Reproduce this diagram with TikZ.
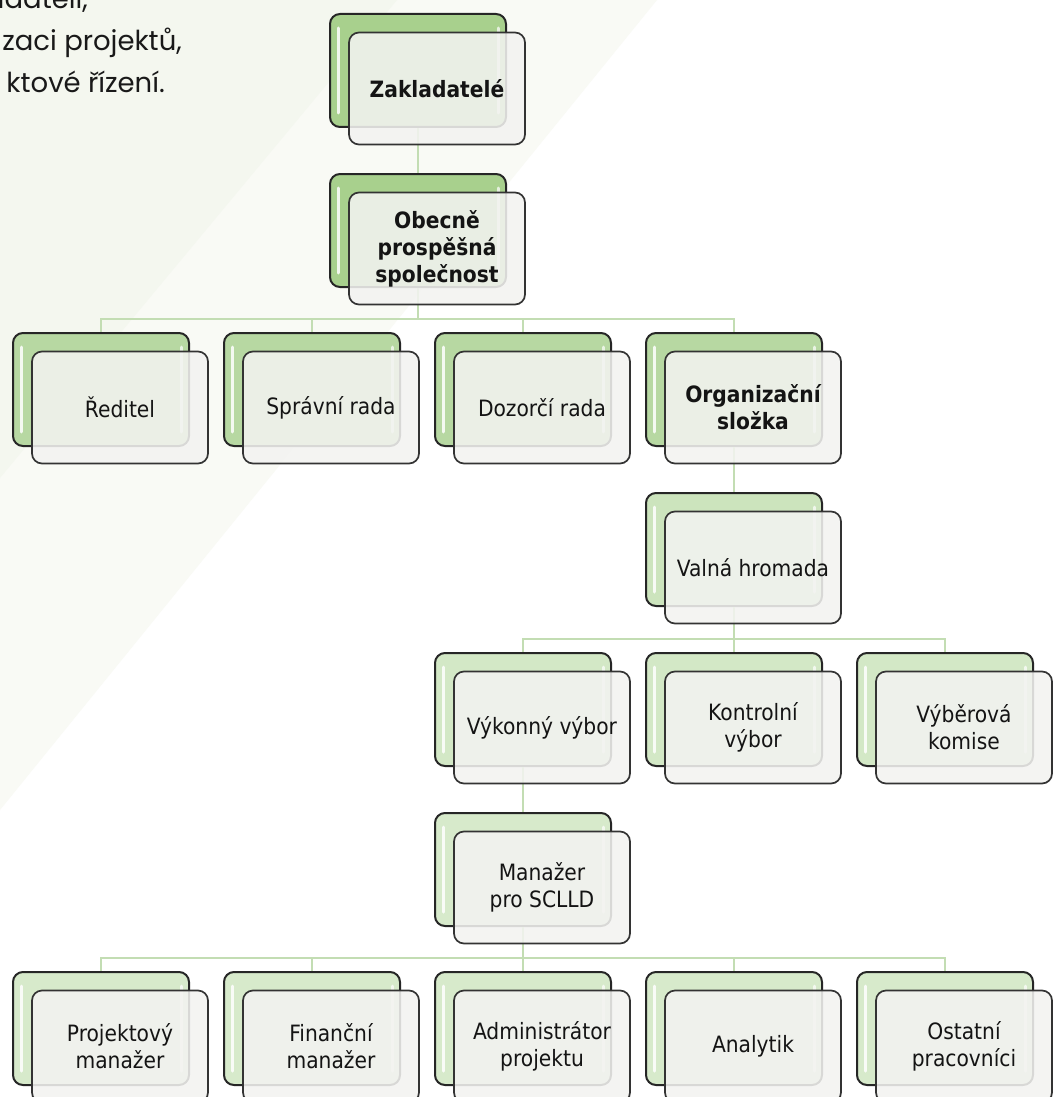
\documentclass[tikz,border=0pt]{standalone}
\usepackage{fontspec}
\usepackage{tikz}
\newfontfamily\boxfont{DejaVu Sans Condensed}
\newfontfamily\introfont{Poppins}
\definecolor{bgdark}{HTML}{F4F7EF}
\definecolor{bglight}{HTML}{F9FAF5}
\definecolor{linkgreen}{HTML}{C3DDB3}
\definecolor{boxface}{HTML}{F3F3F1}
\definecolor{gA}{HTML}{A8D08D}
\definecolor{gB}{HTML}{B7D8A2}
\definecolor{gC}{HTML}{CCE4BD}
\definecolor{gD}{HTML}{D3E8C6}
\definecolor{gE}{HTML}{D7EACB}

\begin{document}
\begin{tikzpicture}[x=1pt,y=-1pt,
    backbox/.style={draw=black!85, line width=2pt, rounded corners=10pt,
      minimum width=176pt, minimum height=113pt, inner sep=0pt,
      path picture={
        \draw[white, line width=3pt, line cap=round, opacity=.85]
          ([shift={(8,14)}]path picture bounding box.north west) --
          ([shift={(8,-14)}]path picture bounding box.south west);
        \draw[white, line width=3pt, line cap=round, opacity=.7]
          ([shift={(-8,14)}]path picture bounding box.north east) --
          ([shift={(-8,-14)}]path picture bounding box.south east);
      }},
    frontbox/.style={draw=black!80, line width=1.7pt, rounded corners=10pt,
      fill=boxface, fill opacity=.87, text opacity=1, text=black!92,
      minimum width=176pt, minimum height=112pt, inner sep=2pt, align=center,
      font=\boxfont\fontsize{22.5}{27}\selectfont},
    boldbox/.style={frontbox, font=\boxfont\bfseries\fontsize{22.5}{27}\selectfont},
    intro/.style={font=\introfont\fontsize{27.5}{34}\selectfont, text=black!90,
      anchor=base east, inner sep=0pt},
    link/.style={draw=linkgreen, line width=2pt}]
  \clip (0,0) rectangle (1059,1097);
  % background
  \fill[white] (0,0) rectangle (1059,1097);
  \fill[bglight] (0,0) -- (657,0) -- (0,810) -- cycle;
  \fill[bgdark] (0,0) -- (397,0) -- (0,478) -- cycle;
  \node[intro] (introa) at (88,9) {adateli,};
  \node[intro] (introb) at (182,51) {zaci projektů,};
  \node[intro] (introc) at (165,93) {ktové řízení.};

  % bus levels
  \coordinate (busA) at (0,319);
  \coordinate (busB) at (0,639);
  \coordinate (busC) at (0,958);

  % back boxes
  \node[backbox, fill=gA] (zaklB) at (418,70.5) {};
  \node[backbox, fill=gA] (obecB) at (418,230.5) {};
  \node[backbox, fill=gB] (redB) at (101,389.5) {};
  \node[backbox, fill=gB] (sprB) at (312,389.5) {};
  \node[backbox, fill=gB] (dozB) at (523,389.5) {};
  \node[backbox, fill=gB] (orgB) at (734,389.5) {};
  \node[backbox, fill=gC] (valB) at (734,549.5) {};
  \node[backbox, fill=gD] (vykB) at (523,709.5) {};
  \node[backbox, fill=gD] (konB) at (734,709.5) {};
  \node[backbox, fill=gD] (vybB) at (945,709.5) {};
  \node[backbox, fill=gE] (manB) at (523,869.5) {};
  \node[backbox, fill=gE] (proB) at (101,1028.5) {};
  \node[backbox, fill=gE] (finB) at (312,1028.5) {};
  \node[backbox, fill=gE] (admB) at (523,1028.5) {};
  \node[backbox, fill=gE] (anaB) at (734,1028.5) {};
  \node[backbox, fill=gE] (ostB) at (945,1028.5) {};

  % connectors
  \draw[link] (zaklB.south) -- (obecB.north);
  \foreach \c in {redB,sprB,dozB,orgB}
    \draw[link] (obecB.south) |- (\c.north |- busA) -- (\c.north);
  \draw[link] (orgB.south) -- (valB.north);
  \foreach \c in {vykB,konB,vybB}
    \draw[link] (valB.south) |- (\c.north |- busB) -- (\c.north);
  \draw[link] (vykB.south) -- (manB.north);
  \foreach \c in {proB,finB,admB,anaB,ostB}
    \draw[link] (manB.south) |- (\c.north |- busC) -- (\c.north);

  % front boxes
  \node[boldbox] (zakl) at ([shift={(19,18)}]zaklB.center) {Zakladatelé};
  \node[boldbox] (obec) at ([shift={(19,18)}]obecB.center) {Obecně\\prospěšná\\společnost};
  \node[frontbox] (red) at ([shift={(19,18)}]redB.center) {Ředitel};
  \node[frontbox] (spr) at ([shift={(19,18)}]sprB.center) {Správní rada};
  \node[frontbox] (doz) at ([shift={(19,18)}]dozB.center) {Dozorčí rada};
  \node[boldbox] (org) at ([shift={(19,18)}]orgB.center) {Organizační\\složka};
  \node[frontbox] (val) at ([shift={(19,18)}]valB.center) {Valná hromada};
  \node[frontbox] (vyk) at ([shift={(19,18)}]vykB.center) {Výkonný výbor};
  \node[frontbox] (kon) at ([shift={(19,18)}]konB.center) {Kontrolní\\výbor};
  \node[frontbox] (vyb) at ([shift={(19,18)}]vybB.center) {Výběrová\\komise};
  \node[frontbox] (man) at ([shift={(19,18)}]manB.center) {Manažer\\pro SCLLD};
  \node[frontbox] (pro) at ([shift={(19,18)}]proB.center) {Projektový\\manažer};
  \node[frontbox] (fin) at ([shift={(19,18)}]finB.center) {Finanční\\manažer};
  \node[frontbox] (adm) at ([shift={(19,18)}]admB.center) {Administrátor\\projektu};
  \node[frontbox] (ana) at ([shift={(19,18)}]anaB.center) {Analytik};
  \node[frontbox] (ost) at ([shift={(19,18)}]ostB.center) {Ostatní\\pracovníci};
\end{tikzpicture}
\end{document}
